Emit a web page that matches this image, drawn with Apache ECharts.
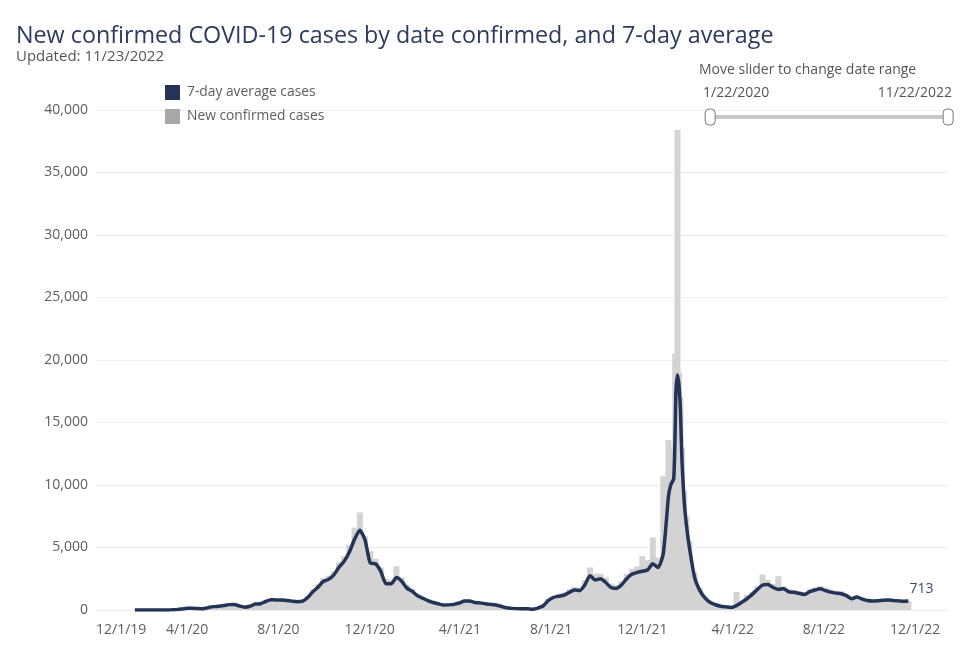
<!DOCTYPE html>
<html>
<head>
<meta charset="utf-8">
<script src="https://cdn.jsdelivr.net/npm/echarts@6/dist/echarts.min.js"></script>
<style>
html,body{margin:0;padding:0;background:#fff;}
#chart{width:980px;height:647px;}
</style>
</head>
<body>
<div id="chart"></div>
<script>
// ---- Data ----
const dates = [
'2020-01-22','2020-01-29','2020-02-05','2020-02-12','2020-02-19','2020-02-26','2020-03-04','2020-03-11','2020-03-18','2020-03-25',
'2020-04-01','2020-04-08','2020-04-15','2020-04-22','2020-04-29','2020-05-06','2020-05-13','2020-05-20','2020-05-27','2020-06-03',
'2020-06-10','2020-06-17','2020-06-24','2020-07-01','2020-07-08','2020-07-15','2020-07-22','2020-07-29','2020-08-05','2020-08-12',
'2020-08-19','2020-08-26','2020-09-02','2020-09-09','2020-09-16','2020-09-23','2020-09-30','2020-10-07','2020-10-14','2020-10-21',
'2020-10-28','2020-11-04','2020-11-11','2020-11-18','2020-11-25','2020-12-02','2020-12-09','2020-12-16','2020-12-23','2020-12-30',
'2021-01-06','2021-01-13','2021-01-20','2021-01-27','2021-02-03','2021-02-10','2021-02-17','2021-02-24','2021-03-03','2021-03-10',
'2021-03-17','2021-03-24','2021-03-31','2021-04-07','2021-04-14','2021-04-21','2021-04-28','2021-05-05','2021-05-12','2021-05-19',
'2021-05-26','2021-06-02','2021-06-09','2021-06-16','2021-06-23','2021-06-30','2021-07-07','2021-07-14','2021-07-21','2021-07-28',
'2021-08-04','2021-08-11','2021-08-18','2021-08-25','2021-09-01','2021-09-08','2021-09-15','2021-09-22','2021-09-29','2021-10-06',
'2021-10-13','2021-10-20','2021-10-27','2021-11-03','2021-11-10','2021-11-17','2021-11-24','2021-12-01','2021-12-08','2021-12-15',
'2021-12-22','2021-12-29',
'2022-01-05','2022-01-08','2022-01-12','2022-01-14','2022-01-15','2022-01-17','2022-01-19','2022-01-21','2022-01-23','2022-01-26',
'2022-01-29','2022-02-02','2022-02-09','2022-02-16','2022-02-23','2022-03-02','2022-03-09','2022-03-16','2022-03-23','2022-03-30',
'2022-04-06','2022-04-13','2022-04-20','2022-04-27','2022-05-04','2022-05-11','2022-05-18','2022-05-25','2022-06-01','2022-06-08',
'2022-06-15','2022-06-22','2022-06-29','2022-07-06','2022-07-13','2022-07-20','2022-07-27','2022-08-03','2022-08-10','2022-08-17',
'2022-08-24','2022-08-31','2022-09-07','2022-09-14','2022-09-21','2022-09-28','2022-10-05','2022-10-12','2022-10-19','2022-10-26',
'2022-11-02','2022-11-09','2022-11-16','2022-11-22'
];
const avgCases = [
0,0,0,0,0,0,5,15,30,75,
140,140,115,100,190,270,300,360,430,440,
320,230,300,480,500,680,830,810,810,760,
710,670,700,980,1450,1820,2280,2450,2790,3410,
3890,4640,5670,6380,5600,3750,3700,3100,2100,2100,
2600,2300,1750,1500,1150,950,750,600,500,400,
410,450,560,720,720,600,570,500,450,400,
300,180,130,110,100,100,60,150,320,750,
1000,1100,1180,1400,1600,1550,2000,2750,2400,2500,
2200,1800,1730,2000,2500,2860,3000,3100,3200,3700,
3400,4500,
9100,10000,10500,14500,17500,18800,18000,16000,12000,8700,
6800,5000,2600,1550,950,600,420,300,250,200,
350,620,900,1250,1650,2000,2050,1800,1650,1700,
1450,1420,1320,1250,1470,1600,1700,1550,1430,1350,
1300,1150,900,1050,870,760,720,740,780,800,
760,730,700,713
];
const newCases = [
0,0,0,0,0,0,10,25,45,95,
170,160,140,120,230,310,340,410,490,510,
370,270,350,550,590,770,920,890,880,830,
790,750,810,1150,1650,2050,2550,2750,3100,3800,
4300,5200,6600,7800,5900,4700,4100,3400,2500,2400,
3500,2600,2000,1700,1300,1050,850,700,560,450,
460,500,640,820,800,680,640,560,500,450,
340,210,150,130,110,120,80,190,400,880,
1150,1300,1400,1650,1850,1800,2400,3400,2900,2900,
2600,2100,2000,2300,2900,3300,3500,4300,4000,5800,
4200,10700,
13600,13000,13000,20500,19000,38400,19000,17000,13000,9500,
7500,5500,3000,1800,1100,700,500,350,300,250,
1450,700,1200,1450,1900,2850,2400,2100,2700,1900,
1650,1600,1500,1400,1650,1800,1900,1800,1650,1550,
1500,1300,1000,1150,1000,880,830,850,880,900,
850,820,780,700
];
const tickDates = ['2019-12-01','2020-04-01','2020-08-01','2020-12-01','2021-04-01','2021-08-01','2021-12-01','2022-04-01','2022-08-01','2022-12-01'];
const tickLabels = ['12/1/19','4/1/20','8/1/20','12/1/20','4/1/21','8/1/21','12/1/21','4/1/22','8/1/22','12/1/22'];
const yTicks = [0,5000,10000,15000,20000,25000,30000,35000,40000];
const seriesNames = ['7-day average cases','New confirmed cases'];
const rangeLabels = ['1/22/2020','11/22/2022'];

// ---- Build ----
const FONT = '"Open Sans", "Noto Sans", sans-serif';
const NAVY = '#233457';
const GREY_TXT = '#605e5c';
const toTs = s => Date.UTC(+s.slice(0, 4), +s.slice(5, 7) - 1, +s.slice(8, 10));
const tickTs = tickDates.map(toTs);
const labelOf = {};
tickTs.forEach((t, i) => { labelOf[t] = tickLabels[i]; });

const avgData = dates.map((d, i) => [toTs(d), avgCases[i]]);
const barData = dates.map((d, i) => [toTs(d), newCases[i]]);

const chart = echarts.init(document.getElementById('chart'), null, { renderer: 'canvas' });
chart.setOption({
  animation: false,
  backgroundColor: '#ffffff',
  textStyle: { fontFamily: FONT },
  title: {
    text: 'New confirmed COVID-19 cases by date confirmed, and 7-day average',
    subtext: 'Updated: 11/23/2022',
    left: 16, top: 25, padding: 0,
    itemGap: 1,
    textStyle: { fontFamily: FONT, fontSize: 23.3, fontWeight: 'normal', color: '#2b3a5e' },
    subtextStyle: { fontFamily: FONT, fontSize: 15, color: '#555' }
  },
  legend: {
    data: [
      { name: seriesNames[0], itemStyle: { color: NAVY } },
      { name: seriesNames[1], itemStyle: { color: '#a8a8a8' } }
    ],
    orient: 'vertical', left: 165, top: 85, padding: 0,
    icon: 'rect', itemWidth: 15, itemHeight: 15, itemGap: 9,
    textStyle: { fontFamily: FONT, fontSize: 13.8, color: GREY_TXT, padding: [0, 0, 0, 2] }
  },
  grid: { left: 96, right: 32, top: 110, bottom: 37, containLabel: false },
  xAxis: {
    type: 'value',
    min: toTs('2019-12-01'),
    max: toTs('2023-01-14'),
    axisLine: { show: false },
    axisTick: { show: false },
    splitLine: { show: false },
    axisLabel: {
      customValues: tickTs,
      formatter: v => labelOf[v] || '',
      alignMinLabel: 'left',
      fontFamily: FONT, fontSize: 14, color: GREY_TXT, margin: 13, hideOverlap: false
    }
  },
  yAxis: {
    type: 'value',
    min: yTicks[0], max: yTicks[yTicks.length - 1], interval: 5000,
    axisLine: { show: false },
    axisTick: { show: false },
    splitLine: { lineStyle: { color: '#eeeeee', width: 1 } },
    axisLabel: {
      formatter: v => v.toLocaleString('en-US'),
      fontFamily: FONT, fontSize: 14, color: GREY_TXT, margin: 8
    }
  },
  dataZoom: [{
    type: 'slider', xAxisIndex: 0, filterMode: 'none',
    start: 0, end: 100,
    left: 708, width: 240, top: 115, height: 4,
    showDetail: false, showDataShadow: false, brushSelect: false,
    moveHandleSize: 0,
    moveHandleStyle: { opacity: 0 },
    backgroundColor: '#c8c8c8', fillerColor: '#c8c8c8', borderColor: 'transparent',
    dataBackground: { lineStyle: { opacity: 0 }, areaStyle: { opacity: 0 } },
    handleIcon: 'path://M4,0 H6 A4,4 0 0 1 10,4 V12 A4,4 0 0 1 6,16 H4 A4,4 0 0 1 0,12 V4 A4,4 0 0 1 4,0 Z',
    handleSize: 16,
    handleStyle: { color: '#ffffff', borderColor: '#7a7a7a', borderWidth: 1 },
    emphasis: { handleStyle: { color: '#ffffff', borderColor: '#7a7a7a' }, moveHandleStyle: { opacity: 0 } }
  }],
  graphic: [
    { type: 'text', left: 699, top: 63, style: { text: 'Move slider to change date range', fill: '#555', font: '14px ' + FONT } },
    { type: 'text', left: 703, top: 86, style: { text: rangeLabels[0], fill: '#555', font: '14px ' + FONT } },
    { type: 'text', right: 28, top: 86, style: { text: rangeLabels[1], fill: '#555', font: '14px ' + FONT } }
  ],
  series: [
    {
      name: seriesNames[1], type: 'bar', data: barData,
      barWidth: 6, itemStyle: { color: '#d3d3d3' },
      emphasis: { disabled: true }, z: 1
    },
    {
      name: seriesNames[0], type: 'line', data: avgData,
      showSymbol: false, symbol: 'none', smooth: 0.2,
      lineStyle: { color: NAVY, width: 3.5 },
      itemStyle: { color: NAVY },
      endLabel: {
        show: true, distance: 0, offset: [1, -12],
        formatter: p => String(p.value[1]),
        color: '#3d4a6b', fontSize: 14, fontFamily: FONT
      },
      emphasis: { disabled: true }, z: 3
    }
  ]
});
</script>
</body>
</html>
